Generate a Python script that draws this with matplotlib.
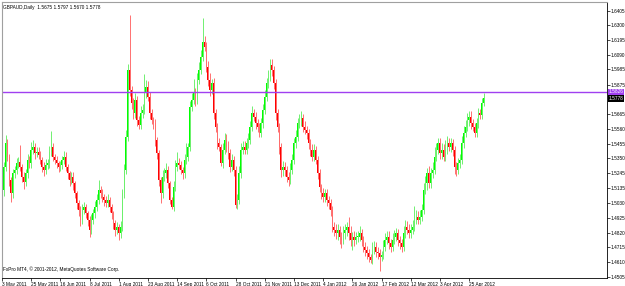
import matplotlib
matplotlib.use("Agg")
import matplotlib.pyplot as plt
import numpy as np

# daily closes GBPAUD, 3 May 2011 .. 4 May 2012
closes = [
    1.5124, 1.5291, 1.5457, 1.5362, 1.5195, 1.5100, 1.5243, 1.5267, 1.5314, 1.5326,
    1.5291, 1.5219, 1.5183, 1.5243, 1.5338, 1.5314, 1.5410, 1.5433, 1.5386, 1.5398,
    1.5374, 1.5338, 1.5291, 1.5267, 1.5302, 1.5314, 1.5398, 1.5433, 1.5362, 1.5338,
    1.5314, 1.5291, 1.5302, 1.5338, 1.5362, 1.5291, 1.5243, 1.5195, 1.5219, 1.5171,
    1.5100, 1.5029, 1.4981, 1.4910, 1.4981, 1.5005, 1.4957, 1.4910, 1.4838, 1.4910,
    1.4957, 1.5005, 1.5052, 1.5124, 1.5100, 1.5076, 1.5052, 1.5029, 1.5052, 1.5005,
    1.4957, 1.4886, 1.4838, 1.4862, 1.4814, 1.4862, 1.5100, 1.5267, 1.5505, 1.5981,
    1.5838, 1.5743, 1.5671, 1.5767, 1.5624, 1.5588, 1.5671, 1.5695, 1.5814, 1.5862,
    1.5791, 1.5671, 1.5624, 1.5600, 1.5481, 1.5386, 1.5195, 1.5100, 1.5219, 1.5243,
    1.5267, 1.5171, 1.5052, 1.5005, 1.5148, 1.5291, 1.5314, 1.5302, 1.5267, 1.5243,
    1.5338, 1.5362, 1.5433, 1.5719, 1.5767, 1.5814, 1.5767, 1.5910, 1.5981, 1.6076,
    1.6183, 1.6148, 1.6005, 1.5910, 1.5838, 1.5886, 1.5671, 1.5576, 1.5457, 1.5433,
    1.5314, 1.5410, 1.5481, 1.5433, 1.5386, 1.5291, 1.5338, 1.5267, 1.5017, 1.5052,
    1.5243, 1.5410, 1.5433, 1.5410, 1.5457, 1.5481, 1.5576, 1.5671, 1.5648, 1.5600,
    1.5576, 1.5529, 1.5600, 1.5695, 1.5791, 1.5886, 1.5933, 1.6017, 1.5981, 1.5886,
    1.5671, 1.5576, 1.5433, 1.5267, 1.5291, 1.5267, 1.5219, 1.5195, 1.5267, 1.5338,
    1.5457, 1.5505, 1.5600, 1.5624, 1.5636, 1.5576, 1.5552, 1.5529, 1.5457, 1.5410,
    1.5362, 1.5410, 1.5338, 1.5243, 1.5148, 1.5100, 1.5076, 1.5100, 1.5052, 1.5029,
    1.4981, 1.4862, 1.4838, 1.4814, 1.4838, 1.4791, 1.4767, 1.4814, 1.4838, 1.4862,
    1.4814, 1.4767, 1.4791, 1.4767, 1.4791, 1.4791, 1.4814, 1.4767, 1.4719, 1.4695,
    1.4671, 1.4648, 1.4624, 1.4695, 1.4719, 1.4683, 1.4671, 1.4648, 1.4660, 1.4719,
    1.4767, 1.4791, 1.4743, 1.4719, 1.4767, 1.4791, 1.4814, 1.4767, 1.4743, 1.4719,
    1.4814, 1.4862, 1.4838, 1.4814, 1.4838, 1.4862, 1.4910, 1.4933, 1.4910, 1.4933,
    1.4981, 1.5124, 1.5171, 1.5243, 1.5171, 1.5243, 1.5267, 1.5362, 1.5410, 1.5457,
    1.5386, 1.5410, 1.5362, 1.5410, 1.5457, 1.5433, 1.5457, 1.5410, 1.5291, 1.5267,
    1.5314, 1.5338, 1.5457, 1.5529, 1.5576, 1.5624, 1.5648, 1.5600, 1.5576, 1.5529,
    1.5600, 1.5671, 1.5660, 1.5743, 1.5778,
]
first_open = 1.5220

# wick lengths above / below the body, in units of 0.001
up_wick = [
    2, 3, 6, 3, 2, 2, 3, 3, 4, 3, 12, 2, 3, 3, 4, 3, 6, 5, 3, 3,
    3, 3, 2, 3, 4, 3, 4, 11, 3, 2, 3, 2, 3, 3, 4, 3, 2, 2, 3, 3,
    2, 2, 2, 3, 4, 3, 2, 2, 3, 4, 3, 4, 4, 7, 3, 3, 2, 3, 4, 2,
    2, 2, 2, 3, 2, 4, 3, 4, 5, 4, 39, 3, 4, 5, 3, 3, 5, 4, 14, 5,
    4, 3, 3, 2, 3, 2, 2, 2, 5, 4, 5, 3, 2, 2, 4, 5, 8, 4, 3, 2,
    4, 10, 3, 4, 5, 10, 4, 5, 6, 5, 17, 4, 3, 4, 5, 3, 4, 3, 3, 4,
    2, 5, 5, 4, 4, 3, 4, 3, 3, 4, 5, 5, 4, 4, 4, 5, 4, 5, 3, 3,
    3, 3, 4, 4, 5, 4, 5, 4, 4, 3, 3, 3, 3, 3, 4, 3, 3, 3, 5, 4,
    4, 5, 4, 4, 5, 3, 4, 3, 3, 3, 4, 4, 3, 3, 3, 2, 4, 3, 3, 3,
    3, 3, 3, 4, 4, 3, 3, 5, 4, 3, 7, 5, 3, 4, 3, 4, 5, 3, 3, 3,
    3, 3, 2, 6, 4, 3, 3, 3, 3, 5, 5, 4, 4, 3, 5, 5, 4, 3, 3, 3,
    5, 5, 4, 4, 4, 5, 10, 5, 4, 5, 4, 5, 5, 4, 5, 4, 6, 7, 5, 4,
    4, 5, 4, 7, 5, 4, 4, 3, 3, 3, 4, 4, 5, 5, 5, 5, 4, 4, 3, 3,
    4, 4, 3, 4, 4,
]
down_wick = [
    3, 4, 3, 3, 4, 6, 3, 3, 3, 3, 3, 4, 5, 3, 3, 3, 3, 3, 4, 3,
    3, 3, 4, 4, 3, 3, 3, 3, 3, 3, 3, 4, 3, 3, 3, 3, 4, 4, 3, 5,
    3, 4, 4, 4, 3, 3, 3, 4, 5, 3, 3, 3, 3, 3, 3, 4, 4, 3, 3, 4,
    4, 4, 4, 3, 5, 3, 3, 3, 3, 3, 4, 4, 4, 3, 4, 3, 3, 3, 3, 3,
    3, 4, 3, 4, 4, 4, 4, 7, 3, 3, 3, 3, 3, 2, 3, 3, 3, 3, 3, 4,
    3, 3, 3, 3, 3, 3, 4, 3, 3, 3, 3, 3, 4, 4, 4, 3, 4, 4, 4, 3,
    2, 3, 3, 4, 4, 4, 3, 4, 2, 3, 3, 3, 3, 3, 3, 3, 3, 3, 3, 4,
    4, 3, 3, 3, 3, 3, 3, 3, 4, 4, 5, 4, 5, 5, 4, 4, 4, 4, 3, 3,
    3, 3, 3, 3, 4, 4, 3, 4, 4, 4, 3, 3, 3, 4, 4, 4, 4, 4, 4, 4,
    4, 4, 4, 4, 5, 5, 6, 3, 4, 4, 5, 4, 7, 4, 3, 4, 3, 4, 4, 4,
    4, 4, 2, 3, 3, 4, 4, 10, 3, 3, 3, 3, 4, 4, 3, 3, 3, 4, 4, 4,
    3, 3, 3, 3, 3, 3, 3, 3, 3, 3, 3, 3, 3, 5, 3, 3, 3, 3, 3, 3,
    4, 4, 3, 3, 3, 3, 4, 4, 5, 4, 3, 3, 3, 3, 3, 3, 4, 4, 3, 3,
    3, 3, 3, 3, 2,
]

price_labels = [1.6405, 1.6300, 1.6195, 1.6090, 1.5985, 1.5875, 1.5665, 1.5560,
                1.5455, 1.5350, 1.5245, 1.5135, 1.5030, 1.4925, 1.4820, 1.4715,
                1.4610, 1.4505]
date_labels = ["3 May 2011", "25 May 2011", "16 Jun 2011", "8 Jul 2011", "1 Aug 2011",
               "23 Aug 2011", "14 Sep 2011", "6 Oct 2011", "28 Oct 2011", "21 Nov 2011",
               "13 Dec 2011", "4 Jan 2012", "26 Jan 2012", "17 Feb 2012", "12 Mar 2012",
               "3 Apr 2012", "25 Apr 2012"]
line_level = 1.5826
bid = 1.5778
title = "GBPAUD,Daily  1.5675 1.5797 1.5670 1.5778"

closes = np.array(closes)
opens = np.concatenate([[first_open], closes[:-1]])
top = np.maximum(opens, closes)
bot = np.minimum(opens, closes)
highs = top + np.array(up_wick) * 0.001
lows = bot - np.array(down_wick) * 0.001
x = np.arange(len(closes))
bull = closes >= opens

fig = plt.figure(figsize=(6.25, 2.86), dpi=100)
fig.patch.set_facecolor("white")
ax = fig.add_axes([2 / 625, 8 / 286, 605 / 625, 276 / 286])

ax.vlines(x[bull], lows[bull], highs[bull], color="#70f070", lw=0.7)
ax.vlines(x[~bull], lows[~bull], highs[~bull], color="#ff7070", lw=0.7)
h = np.maximum(top - bot, 0.0004)
ax.bar(x[bull], h[bull], bottom=bot[bull], width=0.85, color="#00ff00", lw=0)
ax.bar(x[~bull], h[~bull], bottom=bot[~bull], width=0.85, color="#ff0000", lw=0)

ax.axhline(line_level, color="#a040f0", lw=1.0)

ax.set_xlim(0.16, 331.5)
ax.set_ylim(1.4495, 1.6467)

fs = 3.4
ax.yaxis.tick_right()
ax.set_yticks(price_labels)
ax.set_yticklabels(["%.4f" % v for v in price_labels], fontsize=fs, family="Liberation Sans")
ax.tick_params(axis="y", length=2, width=0.5, pad=0.8)
ax.set_xticks(np.arange(0, 16 * len(date_labels), 16))
ax.set_xticklabels(date_labels, fontsize=fs, family="Liberation Sans", ha="left")
ax.tick_params(axis="x", length=2, width=0.5, pad=1)

for s in ["left", "top"]:
    ax.spines[s].set_color("#a0a0a0")
    ax.spines[s].set_linewidth(0.8)
for s in ["right", "bottom"]:
    ax.spines[s].set_color("black")
    ax.spines[s].set_linewidth(0.6)

ax.text(1.002, line_level, "%.4f" % line_level, transform=ax.get_yaxis_transform(),
        fontsize=fs, family="Liberation Sans", color="white", va="center", ha="left",
        bbox=dict(boxstyle="square,pad=0.15", fc="#a040f0", ec="none"))
ax.text(1.002, bid, "%.4f" % bid, transform=ax.get_yaxis_transform(),
        fontsize=fs, family="Liberation Sans", color="white", va="center", ha="left",
        bbox=dict(boxstyle="square,pad=0.15", fc="black", ec="none"))

fig.text(3 / 625, 1 - 5 / 286, title, fontsize=fs, family="Liberation Sans", va="top")
fig.text(3 / 625, 1 - 272 / 286, "FxPro MT4, \u00a9 2001-2012, MetaQuotes Software Corp.",
         fontsize=fs, family="Liberation Sans", va="bottom")

fig.savefig("out.png", dpi=100, facecolor="white")
